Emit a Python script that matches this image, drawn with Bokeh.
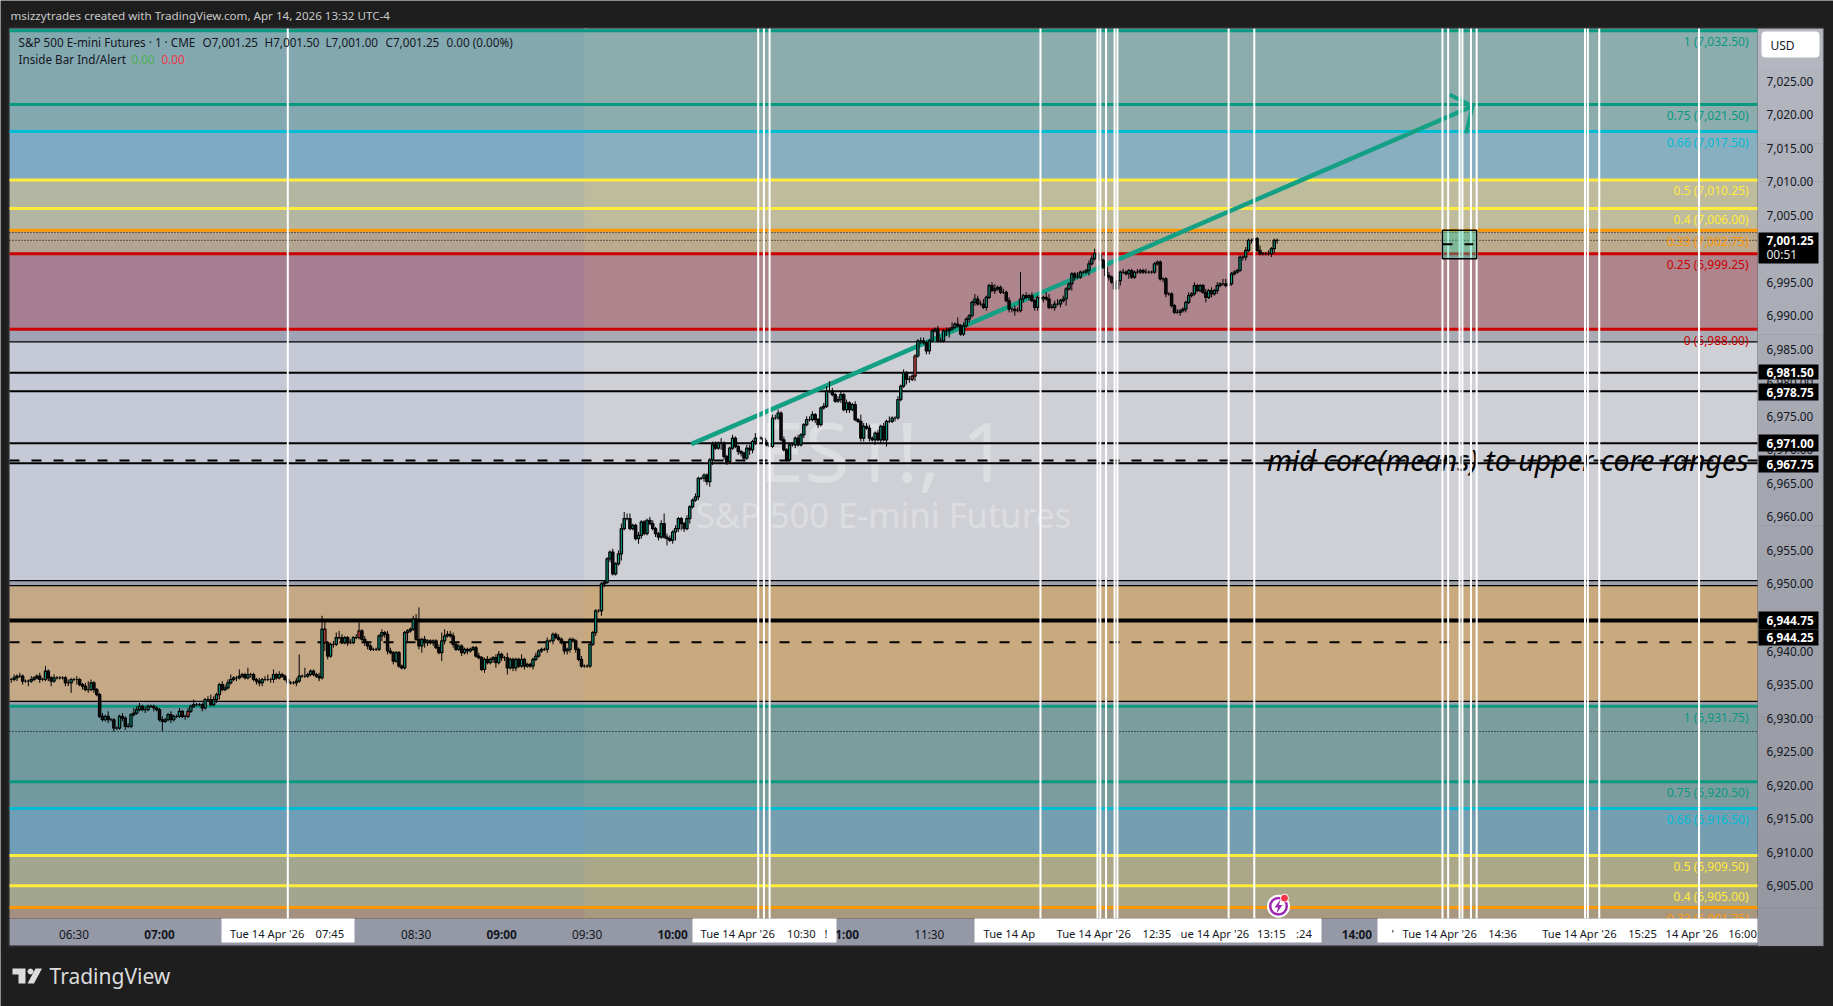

import math
from bokeh.plotting import figure
from bokeh.embed import file_html
from bokeh.resources import INLINE
from bokeh.core.properties import value
from bokeh.models import (BoxAnnotation, Label, PolyAnnotation, Range1d, FixedTicker, ColumnDataSource, LinearAxis)

# ---------------------------------------------------------------- data
first_bar_minute = 368   # 06:08
closes = [
6935.75,6936,6936.25,6936.25,6935.5,6935.5,6935.5,6935.75,6936,6936.25,
6935.75,6935.75,6937,6936,6935.5,6936,6936,6936,6936,6935.25,
6935.25,6935.75,6935.75,6935.75,6935,6934.75,6934.25,6934.25,6935.25,6934.25,
6933.5,6930.25,6929.75,6930.25,6929.75,6929.75,6928.5,6928.5,6930.25,6930,
6928.75,6928.75,6930.5,6930.75,6931.25,6931.75,6931.25,6931.25,6931.75,6931.75,
6931.5,6931.25,6929.75,6929.5,6929.75,6930.5,6929.75,6930.25,6930.25,6931,
6930.25,6930.25,6931,6931.75,6932,6932,6932,6931.5,6932.75,6932.75,
6932,6932.75,6933.5,6935,6934.25,6934.5,6935.25,6935.75,6936,6936,
6936.25,6936.5,6936,6936.5,6936.5,6935.75,6935.5,6935.25,6935.75,6935.75,
6935.75,6935.75,6936.5,6936,6936.5,6936.25,6935.75,6935.25,6935.25,6935.25,
6935.5,6936.25,6936.25,6936.25,6936.5,
6937,6936.5,6936.25,6936,
6943.25,6941.25,6939.25,6941,6941,6942,6942,6941.25,6942,6941.25,6941.25,6942,6942,6943,6941.75,6941.25,6940.75,6940.25,6940.25,6940.25,
6942.25,6942.75,6942.5,6940,6939.75,6938.5,6939.75,6937.75,6937.5,6942.75,6943,6943.25,6944.75,6941.75,6940.75,6941.75,6941.25,6941.5,6941.25,6941.5,
6940.5,6939.75,6941.5,6942.25,6942.5,6942.25,6941,6940.25,6940.75,6939.75,6940.25,6940,6940.25,6940.5,6939.25,6939,6937.25,6938.75,6938.25,6938.75,
6939,6938.25,6939.5,6939,6939,6937.5,6938.75,6937.5,6938.75,6937.75,6938.75,6937.75,6938,6937.75,6938.75,6939.25,6940,6940.25,6940.25,6941.5,
6941.5,6942.5,6942,6941.75,6941.25,6940,6940.25,6941.75,6941.5,6940.25,6938.75,6937.75,6937.75,6937.75,6941,6942.75,6946,6946,
6950,6950.25,6953.75,6954.75,6951.5,6953,6954.5,6958.25,6959.75,6959.75,6958.25,6958.75,6956.75,6957.25,6959.25,6957.5,6959.5,6959,6958.25,6957.5,
6957,6959,6957,6956.75,6956.5,6957.75,6958.25,6959.75,6959,6958.25,6959.75,6961.5,6962.5,6963,6965.75,6965.75,6966.25,6965.25,6968.5,6970.75,
6970.25,6971,6971,6969,6968.25,6970.25,6971.75,6970.5,6969.75,6969.5,6968.75,6970.25,6970,6971.25,6971.75,6971.75,6971.75,6971,6970.75,6970.5,
6974.75,6974.75,6975.5,6971.5,6970,6968.5,6970.75,6970.75,6971.75,6970.75,6972.25,6973.75,6974.5,6974.5,6975.25,6974.5,6973.75,6976.25,6976.5,6978.75,
6978.75,6978.25,6977.25,6977.5,6978.25,6976,6977,6976,6976.75,6974.5,6974.25,6971.75,6973.5,6973.25,6971.75,6971.5,6972.5,6971.5,6973.5,6971.5,
6974.25,6974.25,6974.75,6974.75,6977.5,6979.5,6981.5,6980.5,6980.5,6981,
6984,6986.25,6986.25,6986,6984.75,6986.25,6987.75,6988,6986.25,6986.25,6987.75,6987.75,6988,6988.25,6988.75,6988.5,6987.25,6988.5,6989.5,6990,
6992,6992.5,6991.75,6991.75,6991.25,6992.75,6994.5,6993.75,6994,6994.25,6993.5,6993.5,6992.25,6991,6991,6990.75,6990.75,6992.5,6993,6992.75,
6993,6992.25,6991.25,6992.75,6992.5,6992.75,6992.5,6991.25,6991.25,6991.75,6991.75,6992.25,6992.5,6994,6994.75,6996.25,6995.75,6995.75,6996.5,6996.5,
6996.75,6997.75,6998.5,6999.25,6999.25,6998.25,6997.25,6996,6995.75,6995,6994,6995.25,6996.5,6996.5,6996.25,6996.75,6995.75,6996.5,6996.5,6996.75,
6996.5,6996.5,6996.5,6996.5,6997.75,6998,6995.5,6995.5,6993.25,6993.25,6991.5,6990.5,6990.5,6990.75,6991,6992,6993,6993.25,6994.5,6993.75,
6994.5,6993.5,6992.75,6993.75,6993.25,6993.75,6994.5,6994.75,6994.75,6994.5,6994.75,6996.25,6996.5,6996.75,6998.75,6998.75,6999.75,7001.25,7001.25,7001.5,
6999.75,6999.25,6999.25,6999.25,6999.25,7000,7001.25,7001.25,
]
# wick lengths in ticks of 0.25, read bar by bar
wick_up = [
1,2,1,2,1,1,1,2,1,1,2,1,3,1,1,2,1,1,1,1,
2,1,1,2,1,1,2,5,2,1,1,1,2,1,3,1,1,1,1,2,
1,2,1,3,2,2,1,2,1,1,1,1,1,2,1,1,2,1,1,2,
1,1,2,1,3,1,1,1,1,2,3,2,1,1,2,2,2,3,1,1,
4,1,1,4,1,1,1,2,1,2,3,1,3,1,2,1,1,1,1,1,
2,13,1,5,1,1,1,1,2,8,6,1,1,2,3,4,2,1,1,2,
1,2,5,1,2,1,1,1,1,1,2,1,2,2,1,1,1,1,1,1,
1,2,3,19,1,2,1,1,1,1,2,5,4,2,2,2,1,1,1,1,
1,1,1,1,2,1,1,2,1,1,2,2,1,1,3,1,1,1,1,3,
1,1,1,1,2,1,1,1,2,1,1,1,2,1,1,1,1,1,1,1,
2,1,1,1,1,1,1,1,1,1,1,2,1,2,3,4,3,3,1,1,
2,1,1,1,2,2,1,1,2,6,2,2,1,2,1,1,1,2,1,1,
2,1,1,1,1,1,2,2,1,3,1,1,1,2,1,1,1,1,2,2,
1,3,1,1,1,2,1,2,2,2,1,2,1,1,1,1,2,1,1,2,
2,2,1,1,1,2,3,6,2,1,2,2,1,2,1,1,2,1,4,2,
2,2,1,1,2,1,2,1,3,1,1,2,1,2,1,2,1,1,1,2,
2,1,1,1,1,2,2,1,2,1,3,1,4,1,2,1,1,1,3,2,
2,3,1,1,2,3,1,1,2,1,2,1,2,2,16,1,2,1,2,1,
1,1,1,3,3,2,2,3,1,2,1,1,1,1,3,1,1,1,2,2,
3,2,1,1,2,2,1,2,1,1,2,1,1,1,1,2,1,1,2,1,
1,1,1,1,1,1,1,1,1,2,1,1,1,2,1,2,1,1,1,2,
1,2,1,2,1,3,3,1,1,1,1,1,1,2,1,1,2,1,3,1,
1,2,1,1,1,1,1,1,3,5,1,1,1,1,2,1,1,2,1,1,
]
wick_down = [
2,1,2,1,2,1,3,1,1,1,2,1,1,2,3,1,1,1,1,2,
2,6,1,3,1,2,1,2,1,2,1,1,1,1,2,1,2,1,1,2,
2,1,1,1,1,1,1,2,1,1,2,1,1,6,1,1,2,1,1,1,
1,2,1,1,1,1,1,2,1,1,1,1,2,3,1,1,1,1,1,2,
1,1,1,1,2,1,2,2,2,1,1,2,2,1,1,1,1,1,1,1,
2,1,1,1,1,1,1,1,2,1,5,2,1,2,1,1,1,1,2,1,
1,1,1,1,2,2,1,1,1,1,3,2,2,1,2,1,1,1,1,5,
1,1,1,2,4,3,2,1,2,1,1,5,2,1,1,2,1,1,2,1,
2,1,1,1,1,1,2,1,1,2,3,1,2,2,4,1,2,2,1,1,
2,1,1,2,1,1,1,1,2,1,2,1,1,1,2,2,2,1,2,1,
1,1,1,1,1,2,1,3,2,1,2,1,1,1,4,1,1,1,1,1,
3,2,1,1,1,1,2,2,1,1,4,1,2,5,2,4,2,1,3,1,
1,2,1,2,2,3,3,1,1,4,2,2,1,1,1,2,2,1,1,3,
2,2,4,1,3,1,2,1,1,1,1,1,1,1,1,2,1,1,2,1,
1,1,2,2,1,1,1,1,1,1,1,2,1,2,2,1,1,1,2,2,
1,2,1,3,1,2,1,4,1,1,2,1,1,1,3,2,1,3,1,2,
1,2,2,1,1,1,1,1,3,4,1,1,1,1,1,1,2,1,2,1,
1,1,2,1,1,2,1,1,1,1,2,2,3,1,1,2,1,2,1,2,
2,1,2,1,1,1,2,1,2,1,4,1,4,2,1,1,1,1,3,1,
1,1,2,1,1,2,1,1,2,3,1,1,3,1,1,1,1,1,1,1,
1,1,1,1,2,2,1,1,1,1,2,1,2,1,1,1,1,1,1,3,
1,2,1,2,1,1,1,2,1,1,1,1,2,2,1,2,1,1,1,1,
1,1,2,3,2,2,1,2,1,1,1,1,1,2,1,1,1,1,1,1,
]
inside_bar_minutes = [426, 430, 478, 490, 631, 636, 684, 685]  # red highlighted bodies

fib_levels = [7032.5, 7021.5, 7017.5, 7010.25, 7006, 7002.75, 6999.25, 6988,
              6931.75, 6920.5, 6916.5, 6909.5, 6905, 6901.75]
fib_colors = ["#089981", "#089981", "#00bcd4", "#ffeb3b", "#ffeb3b", "#ff9800", "#cc0000", "#cc0000",
              "#089981", "#089981", "#00bcd4", "#ffeb3b", "#ffeb3b", "#ff9800"]
fib_text = ["1 (7,032.50)", "0.75 (7,021.50)", "0.66 (7,017.50)", "0.5 (7,010.25)", "0.4 (7,006.00)",
            "0.33 (7,002.75)", "0.25 (6,999.25)", "0 (6,988.00)", "1 (6,931.75)", "0.75 (6,920.50)",
            "0.66 (6,916.50)", "0.5 (6,909.50)", "0.4 (6,905.00)", "0.33 (6,901.75)"]

zone_tops =    [7032.84, 7017.5, 7010.25, 7002.75, 6999.25, 6988, 6986.1, 6950.5, 6949.75, 6932.5, 6931.75, 6916.5, 6909.5, 6901.75]
zone_bottoms = [7017.5, 7010.25, 7002.75, 6999.25, 6988, 6986.1, 6950.5, 6949.75, 6932.5, 6931.75, 6916.5, 6909.5, 6901.75, 6900.11]
zone_premarket = ["#84a8b0", "#7eabc3", "#b3b6a0", "#b2a490", "#a68092", "#9fa3b5", "#c6cad6", "#9ea0ad",
                  "#c5a886", "#9a9dab", "#7399a0", "#6f9eb6", "#a3a68e", "#a39080"]
zone_session =   ["#8dadad", "#88afc0", "#bfbc9d", "#bcaa8d", "#ae848d", "#a8aab4", "#cfd0d6", "#a0a2ab",
                  "#c9aa7f", "#9fa1aa", "#7c9d9e", "#759fb1", "#aba88a", "#a99880"]
session_start = 569

solid_levels = [6981.5, 6978.75, 6971, 6968]
thin_levels = [6986.1, 6950.5, 6949.75, 6932.5]
thick_level = 6944.55
dashed_levels = [6968.4, 6941.3]
dotted_levels = [7002.4, 7001.25, 6928.0]

vertical_minutes = [465, 630, 632, 634, 729, 749, 750, 752, 755, 756, 795, 804, 870, 872, 876, 877, 880, 882,
                    920, 921, 925, 960]

trend_minutes = [606.5, 880.5]
trend_prices = [6970.85, 7021.25]
head_minutes = [872.5, 880.5, 878.3]
head_prices = [7023.0, 7021.25, 7017.2]

price_ticks = [7025, 7020, 7015, 7010, 7005, 7000, 6995, 6990, 6985, 6980, 6975, 6970, 6965, 6960, 6955, 6950,
               6945, 6940, 6935, 6930, 6925, 6920, 6915, 6910, 6905]
time_ticks = [390, 510, 570, 690]
time_labels = ["06:30", "08:30", "09:30", "11:30"]
hour_ticks = [420, 540, 600, 660, 840]
hour_labels = ["07:00", "09:00", "10:00", "11:00", "14:00"]

price_tags = [("6,981.50", 364, 379), ("6,978.75", 383, 400), ("6,971.00", 434, 451),
              ("6,967.75", 455, 472), ("6,944.75", 611, 629), ("6,944.25", 629, 645)]
time_boxes = [(221, 354), (692, 836), (974, 1321), (1377, 1757)]
time_box_texts = [(229.5, "Tue 14 Apr '26"), (315, "07:45"), (700, "Tue 14 Apr '26"), (786.5, "10:30"), (824, "!"),
                  (983, "Tue 14 Ap"), (1056, "Tue 14 Apr '26"), (1142, "12:35"), (1180, "ue 14 Apr '26"),
                  (1256.6, "13:15"), (1295.6, ":24"), (1391, "'"), (1402, "Tue 14 Apr '26"), (1487.7, "14:36"),
                  (1541.7, "Tue 14 Apr '26"), (1627.7, "15:25"), (1665, "14 Apr '26"), (1727.7, "16:00")]

# ---------------------------------------------------------------- layout
W, H = 1833, 1006
FL, FR, FT, FB = 9, 1757, 28, 918
FONT = "Noto Sans"
DARK = "#1e1e1e"


def minute_at(px):
    return 420 + (px - 159) / 2.851


def price_at(py):
    return 7032.5 - (py - 30.3) / 6.705


x_start, x_end = minute_at(FL), minute_at(FR)
y_top, y_bot = price_at(FT), price_at(FB)

p = figure(width=W, height=H, output_backend="svg", toolbar_location=None,
           x_range=Range1d(minute_at(0), minute_at(W)), y_range=Range1d(price_at(H), price_at(0)),
           x_axis_location="below", y_axis_location="right",
           min_border=0, background_fill_color=DARK, border_fill_color=DARK, outline_line_color=None)
p.grid.visible = False

hour_axis = LinearAxis(fixed_location=y_bot)
p.add_layout(hour_axis, "below")
for ax, ticks, overrides in ((p.yaxis[0], price_ticks, {t: f"{t:,.2f}" for t in price_ticks}),
                             (p.xaxis[0], time_ticks, dict(zip(time_ticks, time_labels))),
                             (hour_axis, hour_ticks, dict(zip(hour_ticks, hour_labels)))):
    ax.ticker = FixedTicker(ticks=ticks)
    ax.major_label_overrides = overrides
    ax.axis_line_color = None
    ax.major_tick_line_color = None
    ax.minor_tick_line_color = None
    ax.major_tick_out = 0
    ax.major_tick_in = 0
    ax.major_label_text_font = FONT
    ax.major_label_text_font_size = "11.8px"
    ax.major_label_text_color = "#131722"
    ax.major_label_standoff = 7
hour_axis.major_label_text_font_style = "bold"
p.yaxis[0].fixed_location = x_end
p.xaxis[0].fixed_location = y_bot
p.yaxis[0].major_label_standoff = 9


def box(x0, x1, y0, y1, color, level="annotation", **kw):
    b = BoxAnnotation(left=x0, right=x1, top=y0, bottom=y1,
                      left_units="canvas", right_units="canvas", top_units="canvas", bottom_units="canvas",
                      fill_color=color, fill_alpha=1, line_color=None, level=level,
                      editable=False, **kw)
    p.add_layout(b)
    return b


def label(x, y, text, size=12, color="#131722", style="normal", align="left", font=FONT):
    p.add_layout(Label(x=x, y=y, x_units="canvas", y_units="canvas", text=text,
                       text_font=font, text_font_size=f"{size}px", text_color=color, text_font_style=style,
                       text_align=align, text_baseline="middle"))


def poly(xs, ys, color):
    p.add_layout(PolyAnnotation(xs=list(xs), ys=list(ys), xs_units="canvas", ys_units="canvas",
                                fill_color=color, fill_alpha=1, line_color=None, editable=False))


# axis panels
steps = 24
for i in range(steps):
    t = i / (steps - 1)
    shade = (int(180 - 32 * t), int(182 - 32 * t), int(192 - 32 * t))
    y0 = 28 + (945 - 28) * i / steps
    y1 = 28 + (945 - 28) * (i + 1) / steps + 0.5
    box(FR, 1823, y0, y1, "#%02x%02x%02x" % shade, level="underlay")
box(FL, FR, 918, 945, "#9598a5", level="underlay")

# zones (the pre-market part runs under the session part so that no seam shows)
zone_src = dict(top=zone_tops * 2, bottom=zone_bottoms * 2,
                left=[x_start] * len(zone_tops) + [session_start] * len(zone_tops),
                right=[session_start + 1] * len(zone_tops) + [x_end] * len(zone_tops),
                color=zone_premarket + zone_session)
p.quad(top="top", bottom="bottom", left="left", right="right", fill_color="color", line_color=None,
       source=ColumnDataSource(zone_src))

# watermark
p.text([minute_at(883)], [price_at(449)], text=["ES1!, 1"], text_font=value(FONT),
       text_font_size="82px", text_color="#ffffff", text_alpha=0.3, text_align="center", text_baseline="middle")
p.text([minute_at(883)], [price_at(514)], text=["S&P 500 E-mini Futures"],
       text_font=value(FONT), text_font_size="34.5px", text_color="#ffffff", text_alpha=0.3, text_align="center",
       text_baseline="middle")

# horizontal levels
n_f = len(fib_levels)
p.segment(x0=[x_start] * n_f, x1=[x_end] * n_f, y0=fib_levels, y1=fib_levels, line_color=fib_colors, line_width=3)
p.segment(x0=[x_start] * len(solid_levels), x1=[x_end] * len(solid_levels), y0=solid_levels, y1=solid_levels,
          line_color="black", line_width=2)
p.segment(x0=[x_start] * len(thin_levels), x1=[x_end] * len(thin_levels), y0=thin_levels, y1=thin_levels,
          line_color="black", line_width=1.3)
p.segment(x0=[x_start], x1=[x_end], y0=[thick_level], y1=[thick_level], line_color="black", line_width=4)
for lv in dashed_levels:
    p.line([x_start, x_end], [lv, lv], line_color="black", line_width=2, line_dash="10 12")
for lv in dotted_levels:
    p.line([x_start, x_end], [lv, lv], line_color="black", line_width=1, line_dash="1 2")

# texts in the pane
p.text([minute_at(1748)] * n_f, fib_levels, text=fib_text, text_color=fib_colors, text_font=value(FONT),
       text_font_size="12px", text_align="right", text_baseline="middle", y_offset=11)
p.text([minute_at(1748)], [price_at(459)], text=["mid core(means) to upper core ranges"],
       text_font=value(FONT), text_font_style="italic", text_font_size="28.5px", text_color="black", text_align="right",
       text_baseline="middle")

# trend arrow
p.line(trend_minutes, trend_prices, line_color="#13a085", line_width=4.5)
p.line(head_minutes, head_prices, line_color="#13a085", line_width=4)

# candles
n = len(closes)
mins = [first_bar_minute + i for i in range(n)]
opens = [closes[0]] + closes[:-1]
highs = [max(o, c) + u * 0.25 for o, c, u in zip(opens, closes, wick_up[:n])]
lows = [min(o, c) - d * 0.25 for o, c, d in zip(opens, closes, wick_down[:n])]
tops = [max(o, c) for o, c in zip(opens, closes)]
bots = [min(o, c) for o, c in zip(opens, closes)]
body = ["#ff5252" if m in inside_bar_minutes else ("#089981" if c >= o else "#111111")
        for m, o, c in zip(mins, opens, closes)]
src = ColumnDataSource(dict(x=mins, o=opens, c=closes, h=highs, l=lows, t=tops, b=bots, color=body))
p.segment(x0="x", x1="x", y0="h", y1="l", line_color="black", line_width=1, source=src)
p.vbar(x="x", top="t", bottom="b", width=0.8, fill_color="color", line_color="black", line_width=1.2, source=src)

# white verticals
n_v = len(vertical_minutes)
p.segment(x0=vertical_minutes, x1=vertical_minutes, y0=[y_bot] * n_v, y1=[y_top] * n_v, line_color="white", line_width=2)

# drawn rectangle
p.quad(left=[870], right=[882], top=[7002.75], bottom=[6998.5], fill_color="#20cfa8", fill_alpha=0.38,
       line_color="black", line_width=1.5)
p.line([870, 880.8], [7000.65, 7000.65], line_color="black", line_width=2, line_dash="10 12")

# replay icon
ix, iy = minute_at(1278), price_at(905.7)
p.scatter([ix], [iy], size=23, fill_color="white", line_color=None)
p.scatter([ix], [iy], size=19, fill_color="#9c27b0", line_color=None)
p.scatter([ix], [iy], size=14, fill_color="white", line_color=None)
p.scatter([ix + 2.1], [iy + 1.2], size=8, fill_color="#f23645", line_color="white", line_width=1)
poly([1280, 1274, 1277.5, 1276, 1282, 1278.5], [899, 907, 907, 913, 904.5, 904.5], "#9c27b0")

# header, legend, footer
label(10, 15, "msizzytrades created with TradingView.com, Apr 14, 2026 13:32 UTC-4", size=11.6, color="#c9c9c9")
label(18, 41.5, "S&P 500 E-mini Futures · 1 · CME", size=11.7)
label(202, 41.5, "O7,001.25", size=11.7)
label(264, 41.5, "H7,001.50", size=11.7)
label(325, 41.5, "L7,001.00", size=11.7)
label(385, 41.5, "C7,001.25", size=11.7)
label(446, 41.5, "0.00 (0.00%)", size=11.7)
label(18, 58.7, "Inside Bar Ind/Alert", size=11.7)
label(131, 58.7, "0.00", size=11.7, color="#4caf50")
label(161, 58.7, "0.00", size=11.7, color="#f23645")

# price axis tags
box(1761, 1819, 31, 57, "white", border_radius=4)
label(1770, 44.5, "USD", size=12)
for txt, y0, y1 in price_tags:
    box(1758, 1818, y0, y1, "black")
    label(1766, (y0 + y1) / 2, txt, size=11.8, color="white", style="bold")
box(1758, 1818, 232, 263, "black")
label(1766, 240, "7,001.25", size=11.8, color="white", style="bold")
label(1766, 254, "00:51", size=12, color="#e8e8e8")

# time axis tags
for x0, x1 in time_boxes:
    box(x0, x1, 918, 942, "white")
for x, txt in time_box_texts:
    label(x, 933, txt, size=11.2)

# chart border
b = box(8, 1823, 27, 946, None)
b.fill_alpha = 0
b.line_color = "#4a4a4a"
b.line_width = 1.5

# TradingView logo
poly([12, 25, 25, 18, 18, 12], [968, 968, 983, 983, 974, 974], "#dcdcdc")
poly([35, 41.5, 33.5, 27], [968, 968, 983, 983], "#dcdcdc")
poly([30 + 3 * math.cos(a * math.pi / 6) for a in range(12)],
     [971 + 3 * math.sin(a * math.pi / 6) for a in range(12)], "#dcdcdc")
label(49, 975.5, "TradingView", size=21, color="#dcdcdc")

open("out.html", "w").write(file_html(p, INLINE))
